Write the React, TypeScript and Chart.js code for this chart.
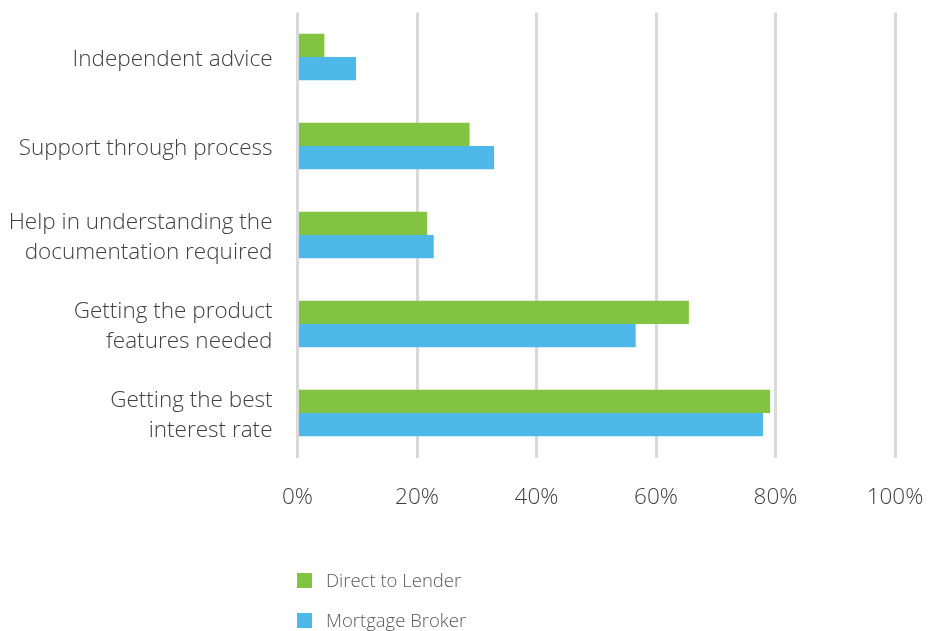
import React, { useEffect, useRef } from "react";
import { Chart, registerables } from "chart.js";

Chart.register(...registerables);

const categories: (string | string[])[] = [
  "Independent advice",
  "Support through process",
  ["Help in understanding the", "documentation required"],
  ["Getting the product", "features needed"],
  ["Getting the best", "interest rate"],
];
const directToLender = [4.5, 28.8, 21.7, 65.5, 79.1];
const mortgageBroker = [9.8, 32.9, 22.8, 56.6, 77.9];
const seriesNames = ["Direct to Lender", "Mortgage Broker"];
const seriesColors = ["#82C341", "#4EB8E8"];
const xTicks = [0, 20, 40, 60, 80, 100];

const FONT = "'Open Sans', sans-serif";

const stackedLegend = {
  id: "stackedLegend",
  afterDraw(chart: any) {
    const ctx = chart.ctx as CanvasRenderingContext2D;
    const left = chart.chartArea.left;
    const base = chart.scales.x.bottom;
    ctx.save();
    chart.data.datasets.forEach((ds: any, i: number) => {
      const cy = base + 69.5 + i * 40;
      ctx.fillStyle = ds.backgroundColor;
      ctx.fillRect(Math.round(left) - 1, Math.round(cy - 7.5), 15, 15);
      ctx.fillStyle = "#595959";
      ctx.font = `300 18.5px ${FONT}`;
      ctx.textBaseline = "middle";
      ctx.textAlign = "left";
      ctx.fillText(ds.label, left + 28.5, cy + 1);
    });
    ctx.restore();
  },
};

export default function App() {
  const ref = useRef<HTMLCanvasElement | null>(null);
  useEffect(() => {
    document.body.style.margin = "0";
    if (!ref.current) return;
    const chart = new Chart(ref.current, {
      type: "bar",
      data: {
        labels: categories,
        datasets: [
          { label: seriesNames[0], data: directToLender, backgroundColor: seriesColors[0] },
          { label: seriesNames[1], data: mortgageBroker, backgroundColor: seriesColors[1] },
        ],
      },
      options: {
        indexAxis: "y",
        animation: false,
        responsive: false,
        maintainAspectRatio: false,
        datasets: { bar: { categoryPercentage: 0.52, barPercentage: 1.0 } },
        layout: { padding: { left: 0, right: 33, top: 12.5, bottom: 120 } },
        plugins: {
          legend: { display: false },
          tooltip: { enabled: false },
        },
        scales: {
          x: {
            min: 0,
            max: 100,
            afterBuildTicks: (axis: any) => {
              axis.ticks = xTicks.map((v) => ({ value: v }));
            },
            afterFit: (scale: any) => {
              scale.height = 53.5;
              scale.paddingLeft = 0;
              scale.paddingRight = 0;
            },
            ticks: {
              callback: (v: any) => `${v}%`,
              color: "#404040",
              font: { family: FONT, size: 22.5, weight: "300" as any },
              padding: 27,
              maxRotation: 0,
            },
            grid: { color: "#D9D9D9", lineWidth: 3, drawTicks: false },
            border: { display: false },
          },
          y: {
            afterFit: (scale: any) => {
              scale.width = 297.5;
              scale.paddingTop = 0;
              scale.paddingBottom = 0;
            },
            ticks: {
              color: "#404040",
              font: { family: FONT, size: 22.5, weight: "300" as any, lineHeight: 1.36 },
              padding: 25,
              labelOffset: 2.5,
            },
            grid: { display: false, drawTicks: false },
            border: { display: false },
          },
        },
      },
      plugins: [stackedLegend],
    });
    return () => chart.destroy();
  }, []);
  return (
    <div style={{ width: 928, height: 631 }}>
      <canvas ref={ref} width={928} height={631} style={{ display: "block" }} />
    </div>
  );
}
